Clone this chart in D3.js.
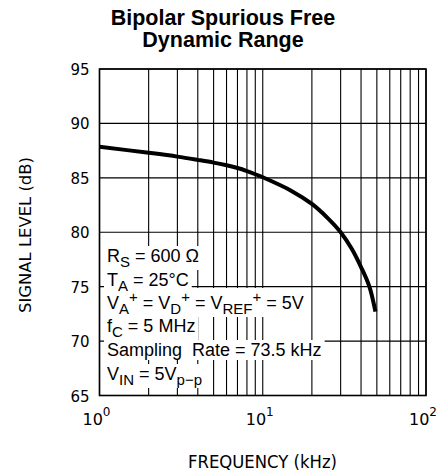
<!DOCTYPE html>
<html>
<head>
<meta charset="utf-8">
<script src="https://cdn.jsdelivr.net/npm/d3@7"></script>
<style>
  body { margin: 0; background: #fff; }
  svg { display: block; }
</style>
</head>
<body>
<svg width="439" height="476"></svg>
<script>
// frequency in kHz, signal level in dB
const freq = [1, 2, 3, 4, 5, 6, 7, 8, 9, 10, 15, 20, 25, 30, 35, 40, 45, 49]
const level = [87.85, 87.3, 86.95, 86.65, 86.4, 86.15, 85.9, 85.62, 85.33, 85.05, 83.8, 82.6, 81.3, 80.0, 78.5, 76.8, 75.0, 72.7]

const yTicks = [65, 70, 75, 80, 85, 90, 95]
const xTicks = [1, 10, 100]
const xExps = ['0', '1', '2']

const title = ['Bipolar Spurious Free', 'Dynamic Range']
// conditions box: each line is a list of [text, 'sub' | 'sup' | null]
const notes = [
  [['R'], ['S', 'sub'], [' = 600 Ω']],
  [['T'], ['A', 'sub'], [' = 25°C']],
  [['V'], ['A', 'sub'], ['+', 'sup'], [' = V'], ['D', 'sub'], ['+', 'sup'], [' = V'], ['REF', 'sub'], ['+', 'sup'], [' = 5V']],
  [['f'], ['C', 'sub'], [' = 5 MHz']],
  [['Sampling\u00a0\u00a0Rate = 73.5 kHz']],
  [['V'], ['IN', 'sub'], [' = 5V'], ['p−p', 'sub']],
]

const margin = { top: 69, right: 13, bottom: 80.5, left: 99.5 }
const width = 439 - margin.left - margin.right
const height = 476 - margin.top - margin.bottom

const x = d3.scaleLog()
  .domain([1, 100])
  .range([0, width])

const y = d3.scaleLinear()
  .domain([65, 95])
  .range([height, 0])

const svg = d3.select('svg')

svg.append('g')
    .attr('font-family', '"Liberation Sans", Arial, sans-serif')
    .attr('font-weight', 'bold')
    .attr('font-size', 21.5)
    .attr('text-anchor', 'middle')
  .selectAll('text')
    .data(title)
  .enter().append('text')
    .attr('x', 223)
    .attr('y', (d, i) => 25 + i * 22)
    .text(d => d)

const g = svg.append('g')
    .attr('transform', `translate(${margin.left}, ${margin.top})`)

// grid: every decade line and the 2..9 lines between them
const gridX = d3.range(0, 2).flatMap(e => d3.range(1, 10).map(k => k * 10 ** e)).concat([100])
g.append('g')
  .selectAll('line')
    .data(gridX)
  .enter().append('line')
    .attr('x1', d => x(d)).attr('x2', d => x(d))
    .attr('y1', 0).attr('y2', height)
    .attr('stroke', '#000')
    .attr('stroke-width', 1.1)

g.append('g')
  .selectAll('line')
    .data(yTicks)
  .enter().append('line')
    .attr('x1', 0).attr('x2', width)
    .attr('y1', d => y(d)).attr('y2', d => y(d))
    .attr('stroke', '#000')
    .attr('stroke-width', 1.1)

// conditions text, white backing behind each line
const noteY = [262, 286, 309, 332, 356, 380]
const bgG = g.append('g')
const notesG = g.append('g')
  .attr('font-family', '"Liberation Sans", Arial, sans-serif')
  .attr('font-size', 18)

notes.forEach((line, i) => {
  const t = notesG.append('text')
    .attr('x', 107 - margin.left)
    .attr('y', noteY[i] - margin.top)
  let shift = 0
  line.forEach(([s, kind]) => {
    let target = kind === 'sub' ? 5 : kind === 'sup' ? -7 : 0
    t.append('tspan')
      .attr('dy', target - shift)
      .attr('font-size', kind ? 15 : 18)
      .text(s)
    shift = target
  })
  const b = t.node().getBBox()
  bgG.append('rect')
    .attr('fill', '#fff')
    .attr('x', b.x - 3).attr('y', b.y)
    .attr('width', b.width + 6).attr('height', b.height)
})

// curve
g.append('path')
  .datum(freq.map((f, i) => [f, level[i]]))
  .attr('fill', 'none')
  .attr('stroke', '#000')
  .attr('stroke-width', 4)
  .attr('d', d3.line()
    .x(d => x(d[0]))
    .y(d => y(d[1]))
    .curve(d3.curveCatmullRom.alpha(0.5)))

// frame
g.append('rect')
  .attr('width', width)
  .attr('height', height)
  .attr('fill', 'none')
  .attr('stroke', '#000')
  .attr('stroke-width', 1.6)

// tick labels
g.append('g')
    .attr('font-family', '"DejaVu Sans", sans-serif')
    .attr('font-size', 15)
    .attr('text-anchor', 'end')
  .selectAll('text')
    .data(yTicks)
  .enter().append('text')
    .attr('x', -10)
    .attr('y', d => y(d) + 6)
    .text(d => d)

const xl = g.append('g')
    .attr('font-family', '"DejaVu Sans", sans-serif')
    .attr('font-size', 16)
    .attr('text-anchor', 'middle')
  .selectAll('text')
    .data(xTicks)
  .enter().append('text')
    .attr('x', d => x(d) - 3)
    .attr('y', height + 29)
xl.append('tspan').text('10')
xl.append('tspan')
    .attr('dy', -9)
    .attr('font-size', 12)
    .text((d, i) => xExps[i])

svg.append('text')
  .attr('font-family', '"DejaVu Sans Condensed", "DejaVu Sans", sans-serif')
  .attr('font-size', 17)
  .attr('x', 188)
  .attr('y', 468)
  .attr('textLength', 149)
  .attr('lengthAdjust', 'spacingAndGlyphs')
  .text('FREQUENCY (kHz)')

svg.append('text')
  .attr('font-family', '"DejaVu Sans Condensed", "DejaVu Sans", sans-serif')
  .attr('font-size', 15)
  .attr('transform', 'translate(31, 313) rotate(-90)')
  .attr('textLength', 156)
  .attr('lengthAdjust', 'spacingAndGlyphs')
  .text('SIGNAL LEVEL (dB)')
</script>
</body>
</html>
